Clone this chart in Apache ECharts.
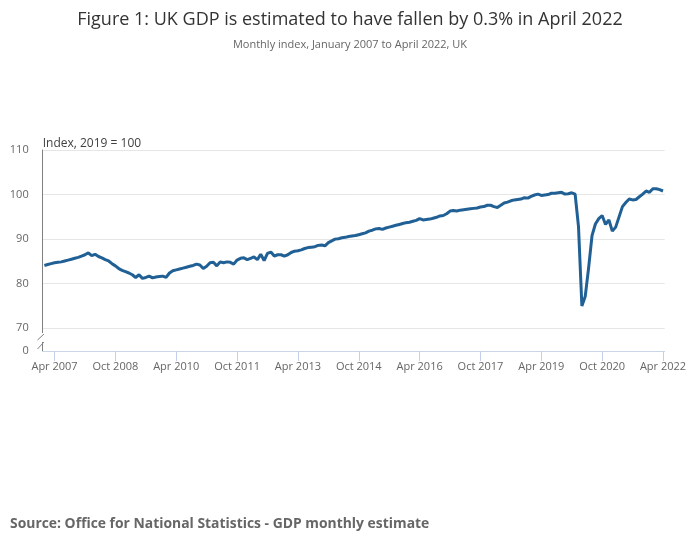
<!DOCTYPE html>
<html>
<head>
<meta charset="utf-8">
<script src="https://cdn.jsdelivr.net/npm/echarts@6/dist/echarts.min.js"></script>
<style>
  html, body { margin: 0; padding: 0; background: #fff; }
  #chart { width: 700px; height: 549px; }
</style>
</head>
<body>
<div id="chart"></div>
<script>
// monthly index, 2019 = 100, Jan 2007 .. Apr 2022
var gdp2007 = [84.1, 84.3, 84.5, 84.7, 84.8, 84.9, 85.1, 85.3, 85.5, 85.7, 85.9, 86.2];
var gdp2008 = [86.5, 86.9, 86.3, 86.6, 86.1, 85.8, 85.4, 85.1, 84.5, 84.0, 83.4, 83.0];
var gdp2009 = [82.7, 82.4, 82.0, 81.4, 82.0, 81.2, 81.4, 81.7, 81.3, 81.5, 81.6, 81.7];
var gdp2010 = [81.4, 82.4, 82.9, 83.1, 83.3, 83.5, 83.7, 83.9, 84.1, 84.4, 84.2, 83.4];
var gdp2011 = [83.9, 84.7, 84.8, 84.0, 84.9, 84.7, 84.9, 84.8, 84.4, 85.3, 85.7, 85.8];
var gdp2012 = [85.4, 85.7, 86.0, 85.4, 86.6, 85.2, 86.8, 87.1, 86.2, 86.5, 86.5, 86.2];
var gdp2013 = [86.5, 87.0, 87.3, 87.4, 87.6, 87.9, 88.1, 88.2, 88.3, 88.6, 88.7, 88.5];
var gdp2014 = [89.2, 89.6, 90.0, 90.1, 90.3, 90.4, 90.6, 90.7, 90.8, 91.0, 91.2, 91.4];
var gdp2015 = [91.8, 92.0, 92.3, 92.4, 92.2, 92.5, 92.7, 92.9, 93.1, 93.3, 93.5, 93.7];
var gdp2016 = [93.8, 94.0, 94.2, 94.6, 94.3, 94.4, 94.5, 94.7, 94.9, 95.2, 95.3, 95.7];
var gdp2017 = [96.3, 96.4, 96.3, 96.5, 96.6, 96.7, 96.8, 96.9, 97.0, 97.2, 97.3, 97.6];
var gdp2018 = [97.6, 97.3, 97.1, 97.6, 98.1, 98.3, 98.6, 98.8, 98.9, 99.0, 99.3, 99.2];
var gdp2019 = [99.6, 99.9, 100.1, 99.8, 99.9, 100.0, 100.3, 100.3, 100.4, 100.5, 100.1, 100.2];
var gdp2020 = [100.4, 100.1, 92.8, 75.0, 77.2, 83.6, 90.8, 93.4, 94.6, 95.3, 93.3, 94.3];
var gdp2021 = [91.8, 92.7, 95.0, 97.3, 98.2, 99.0, 98.8, 98.9, 99.5, 100.1, 100.8, 100.5];
var gdp2022 = [101.3, 101.3, 101.1, 100.8];

var monthNames = ['Jan', 'Feb', 'Mar', 'Apr', 'May', 'Jun', 'Jul', 'Aug', 'Sep', 'Oct', 'Nov', 'Dec'];
var yLabels = [70, 80, 90, 100, 110];
var yBottom = 64.9; // shown as "0" below the axis break

var values = [].concat(gdp2007, gdp2008, gdp2009, gdp2010, gdp2011, gdp2012, gdp2013, gdp2014,
    gdp2015, gdp2016, gdp2017, gdp2018, gdp2019, gdp2020, gdp2021, gdp2022);

var months = [];
for (var i = 0; i < values.length; i++) {
    months.push(monthNames[i % 12] + ' ' + (2007 + Math.floor(i / 12)));
}

function showEvery18(idx) {
    return idx % 18 === 3;
}

var chart = echarts.init(document.getElementById('chart'));

var option = {
    animation: false,
    title: [{
        text: 'Figure 1: UK GDP is estimated to have fallen by 0.3% in April 2022',
        left: 'center',
        top: 6,
        textStyle: { fontFamily: 'Open Sans', fontSize: 18, fontWeight: 'normal', color: '#333333' }
    }, {
        text: 'Monthly index, January 2007 to April 2022, UK',
        left: 'center',
        top: 34,
        textStyle: { fontFamily: 'Open Sans', fontSize: 11, fontWeight: 'normal', color: '#666666' }
    }, {
        text: 'Source: Office for National Statistics - GDP monthly estimate',
        left: 5,
        top: 512,
        textStyle: { fontFamily: 'Open Sans', fontSize: 13.9, fontWeight: 'bold', color: '#666666' }
    }],
    grid: { left: 42.7, right: 35.3, top: 150, bottom: 198 },
    xAxis: {
        type: 'category',
        data: months,
        boundaryGap: true,
        axisLine: { lineStyle: { color: '#ccd6eb' } },
        axisTick: { show: true, alignWithLabel: true, interval: showEvery18, length: 10, lineStyle: { color: '#c4d0e8', width: 1 } },
        axisLabel: { interval: showEvery18, margin: 10, fontFamily: 'Open Sans', fontSize: 11, color: '#666666' },
        splitLine: { show: false }
    },
    yAxis: {
        type: 'value',
        min: yBottom,
        max: 110,
        name: 'Index, 2019 = 100',
        nameLocation: 'end',
        nameGap: 0,
        nameTextStyle: { align: 'left', fontFamily: 'Open Sans', fontSize: 12, color: '#414042' },
        axisLine: { show: true, lineStyle: { color: '#808080' } },
        axisTick: { show: false, customValues: [yBottom].concat(yLabels) },
        axisLabel: {
            customValues: [yBottom].concat(yLabels),
            margin: 14,
            fontFamily: 'Open Sans',
            fontSize: 11,
            color: '#666666',
            formatter: function (v) { return v < 70 ? '0' : String(v); }
        },
        splitLine: { lineStyle: { color: '#e6e6e6' } }
    },
    series: [{
        type: 'line',
        data: values,
        symbol: 'none',
        lineStyle: { color: '#206095', width: 3 },
        z: 3
    }]
};

chart.setOption(option);

// axis break marks
var axX = Math.round(chart.convertToPixel({ gridIndex: 0 }, [0, 0])[0] - 1.7) + 0.5;
var yLow = chart.convertToPixel({ yAxisIndex: 0 }, yBottom);
chart.setOption({
    graphic: [{
        type: 'rect',
        shape: { x: axX - 2, y: yLow - 18, width: 4, height: 9 },
        style: { fill: '#ffffff' },
        z: 10
    }, {
        type: 'line',
        shape: { x1: axX - 6, y1: yLow - 11, x2: axX + 0.5, y2: yLow - 17 },
        style: { stroke: '#808080', lineWidth: 1 },
        z: 11
    }, {
        type: 'line',
        shape: { x1: axX - 6, y1: yLow - 2, x2: axX + 0.5, y2: yLow - 9 },
        style: { stroke: '#808080', lineWidth: 1 },
        z: 11
    }]
});
</script>
</body>
</html>
